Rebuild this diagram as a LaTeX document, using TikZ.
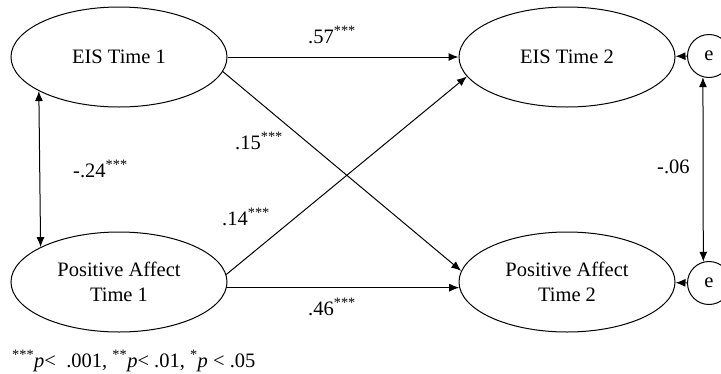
\documentclass[tikz,border=0pt]{standalone}
\usepackage{fontspec}
\setmainfont{Liberation Serif}
\usetikzlibrary{arrows.meta,shapes.geometric}
\begin{document}
\begin{tikzpicture}[x=1pt,y=-1pt,
  font=\fontsize{20.5}{24.5}\selectfont,
  latent/.style={draw, ellipse, minimum width=216pt, minimum height=100pt, inner sep=0pt, align=center, line width=1pt},
  err/.style={draw, circle, minimum size=43pt, inner sep=0pt, line width=1pt},
  dpath/.style={line width=1pt, -{Latex[length=10pt,width=8pt]}},
  cov/.style={line width=1pt, {Latex[length=10pt,width=8pt]}-{Latex[length=10pt,width=8pt]}},
  lab/.style={anchor=base west, inner sep=0pt}]
\useasboundingbox (0,0) rectangle (721,373);

\node[latent] (eis1) at (119,57) {EIS Time 1};
\node[latent] (eis2) at (567,57) {EIS Time 2};
\node[latent] (pa1) at (119,282) {Positive Affect\\Time 1};
\node[latent] (pa2) at (567,282) {Positive Affect\\Time 2};
\node[err] (e1) at (709,56) {e};
\node[err] (e2) at (709,283) {e};

\draw[dpath] (eis1) -- (eis2);
\draw[dpath] (eis1.-8) -- (pa2.174);
\draw[dpath] (pa1.4) -- (eis2.191);
\draw[dpath] (pa1.-3.3) -- (pa2.183.3);
\draw[dpath] (e1) -- (eis2);
\draw[dpath] (e2) -- (pa2);
\draw[cov] (eis1.203.3) -- (pa1.156.7);
\draw[cov] (e1.254.2) -- (e2.105.8);

\node[lab] (l57) at (308,43) {.57\textsuperscript{***}};
\node[lab] (l15) at (235,149) {.15\textsuperscript{***}};
\node[lab] (l24) at (73,177) {-.24\textsuperscript{***}};
\node[lab] (l14) at (222,225) {.14\textsuperscript{***}};
\node[lab] (l46) at (308,315) {.46\textsuperscript{***}};
\node[lab] (l06) at (657,173) {-.06};
\node[lab] (note) at (12,367) {\textsuperscript{***}\textit{p}<\ \ .001, \textsuperscript{**}\textit{p}< .01, \textsuperscript{*}\textit{p} < .05};
\end{tikzpicture}
\end{document}
